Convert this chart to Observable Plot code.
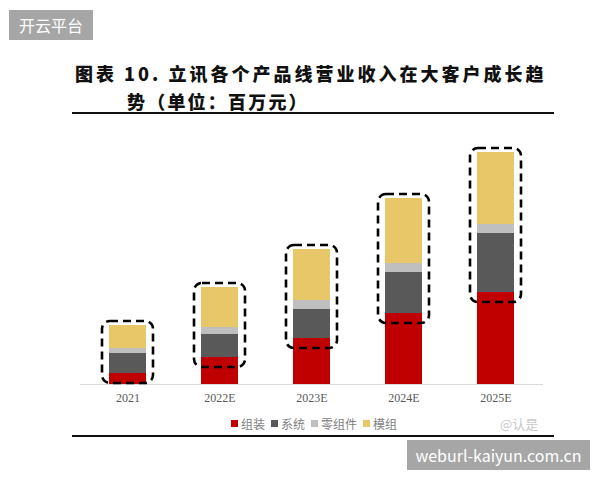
<!DOCTYPE html>
<html>
<head>
<meta charset="utf-8">
<script src="https://cdn.jsdelivr.net/npm/d3@7"></script>
<script src="https://cdn.jsdelivr.net/npm/@observablehq/plot@0.6"></script>
<style>
  html, body { margin: 0; padding: 0; background: #fff; }
  #root { position: relative; width: 600px; height: 480px; overflow: hidden; background: #fff; }
  .wm { position: absolute; background: #a6a6a6; color: #fff; font-family: "Noto Sans CJK SC", sans-serif; display: flex; align-items: center; justify-content: center; }
  .title { position: absolute; font-family: "Noto Sans CJK SC", sans-serif; font-weight: 900; font-size: 18px; color: #111; white-space: nowrap; line-height: 1; }
  .hline { position: absolute; height: 2px; background: #111; }
  #chart { position: absolute; left: 0; top: 120px; }
  #legend { position: absolute; top: 415px; left: 231px; display: flex; align-items: center; font-family: "Noto Sans CJK SC", sans-serif; font-size: 12px; color: #7f7f7f; white-space: nowrap; }
  #legend .item { display: flex; align-items: center; margin-right: 6px; }
  #legend .sw { width: 7px; height: 7px; margin-right: 3px; }
  #weibo { position: absolute; top: 414px; left: 500px; font-family: "Noto Sans CJK SC", sans-serif; font-size: 13px; color: #c8c8c8; }
</style>
</head>
<body>
<div id="root">
  <div class="wm" style="left:9px;top:10px;width:84px;height:30px;font-size:16px;">开云平台</div>
  <div class="title" style="left:75px;top:64px;letter-spacing:3px;">图表 10. 立讯各个产品线营业收入在大客户成长趋</div>
  <div class="title" style="left:127px;top:92px;letter-spacing:2.2px;">势（单位：百万元）</div>
  <div class="hline" style="left:72px;top:112px;width:482px;"></div>
  <div id="chart"></div>
  <div id="legend"></div>
  <div id="weibo">@认是</div>
  <div class="hline" style="left:72px;top:435px;width:482px;"></div>
  <div class="wm" style="left:407px;top:440px;width:183px;height:30px;font-size:16px;">weburl-kaiyun.com.cn</div>
</div>
<script>
// Data (百万元)
const years = ["2021", "2022E", "2023E", "2024E", "2025E"];
const series = ["组装", "系统", "零组件", "模组"];
const assembly   = [11000, 27000, 46000, 71000, 92000];  // 组装
const systems    = [20000, 23000, 29000, 41000, 59000];  // 系统
const components = [5000, 7000, 9000, 9000, 9000];       // 零组件
const modules    = [23000, 40000, 51000, 65000, 72000];  // 模组
const colors = ["#c00000", "#595959", "#bfbfbf", "#e8c768"];

const valuesBySeries = [assembly, systems, components, modules];
const data = [];
series.forEach((s, i) => years.forEach((y, j) => data.push({year: y, series: s, value: valuesBySeries[i][j]})));

// dashed highlight boxes: from just below the top of 组装 up past the total
const boxes = years.map((y, j) => ({
  year: y,
  lo: assembly[j] - 10000,
  hi: assembly[j] + systems[j] + components[j] + modules[j] + 4000
}));

const chart = Plot.plot({
  width: 600,
  height: 290,
  marginTop: 0,
  marginBottom: 26,
  marginLeft: 80,
  marginRight: 57,
  style: { fontFamily: "'Liberation Serif', serif", fontSize: "12px", color: "#595959", background: "transparent" },
  x: { domain: years, range: [53, 570], padding: 0.6, tickSize: 0, tickPadding: 9, label: null },
  y: { domain: [0, 264000], axis: null },
  color: { domain: series, range: colors },
  marks: [
    Plot.ruleY([0], { stroke: "#d9d9d9", strokeWidth: 1 }),
    Plot.barY(data, { x: "year", y: "value", fill: "series", order: series }),
    Plot.barY(boxes, {
      x: "year", y1: "lo", y2: "hi",
      fill: "none", stroke: "#000", strokeWidth: 2.6, strokeDasharray: "8,5",
      rx: 8, insetLeft: -7, insetRight: -7
    })
  ]
});
document.getElementById("chart").appendChild(chart);

const legend = document.getElementById("legend");
series.forEach((s, i) => {
  const item = document.createElement("div");
  item.className = "item";
  item.innerHTML = `<span class="sw" style="background:${colors[i]}"></span><span>${s}</span>`;
  legend.appendChild(item);
});
</script>
</body>
</html>
